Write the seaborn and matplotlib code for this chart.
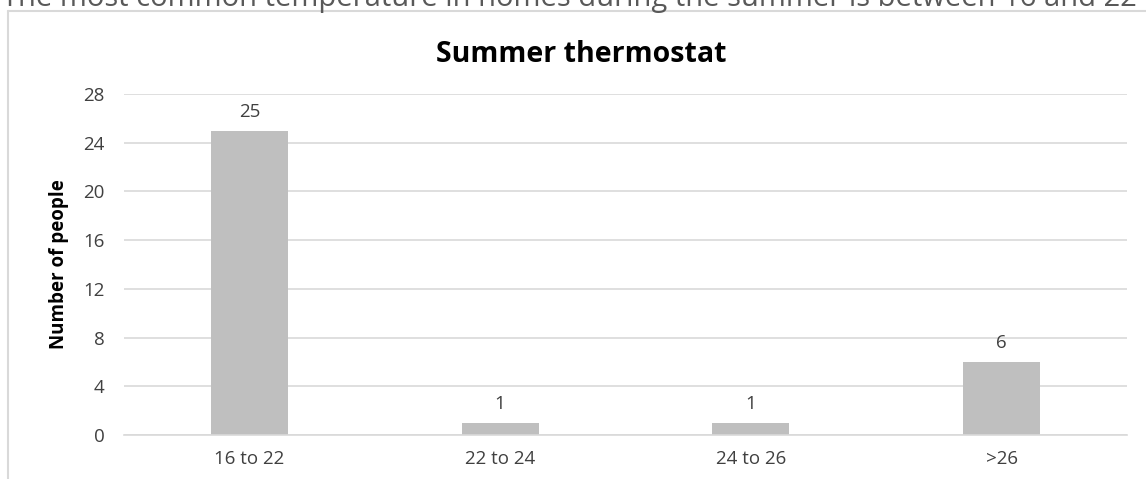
import matplotlib
matplotlib.use("Agg")
import matplotlib.pyplot as plt
import seaborn as sns
import pandas as pd
from matplotlib.lines import Line2D

categories = ["16 to 22", "22 to 24", "24 to 26", ">26"]
counts = [25, 1, 1, 6]
yticks = [0, 4, 8, 12, 16, 20, 24, 28]
title = "Summer thermostat"
ylabel = "Number of people"
caption = "The most common temperature in homes during the summer is between 16 and 22"

sns.set_theme(style="white")
plt.rcParams["font.family"] = ["Open Sans", "DejaVu Sans"]

W, H = 1146, 479
fig = plt.figure(figsize=(W / 100, H / 100), dpi=100)
ax = fig.add_axes([124 / W, 1 - 435 / H, (1127 - 124) / W, (435 - 94) / H])

df = pd.DataFrame({"cat": categories, "n": counts})
sns.barplot(data=df, x="cat", y="n", color="#bfbfbf", width=0.307,
            saturation=1, ax=ax, edgecolor="none")

ax.set_ylim(0, 28)
ax.set_xlim(-0.5, len(categories) - 0.5)
ax.set_yticks(yticks)
ax.set_yticklabels([str(t) for t in yticks])
ax.grid(axis="y", color="#d9d9d9", linewidth=1.2)
ax.set_axisbelow(True)
for s in ["top", "right", "left"]:
    ax.spines[s].set_visible(False)
ax.spines["bottom"].set_color("#d9d9d9")
ax.spines["bottom"].set_linewidth(1.2)
ax.tick_params(axis="both", length=0, labelsize=13.5, labelcolor="#404040")
ax.tick_params(axis="x", pad=11)
ax.tick_params(axis="y", pad=14)
ax.set_xlabel("")
ax.set_ylabel(ylabel, fontsize=13.5, fontweight="bold", color="#000000", labelpad=10)

for c in ax.containers:
    ax.bar_label(c, labels=[str(v) for v in counts], padding=7,
                 fontsize=13.5, color="#404040")

fig.text(581 / W, 1 - 55 / H, title, ha="center", va="center",
         fontsize=20.5, fontweight="bold", color="#000000")

fig.text(2 / W, 1 - 6 / H, caption, ha="left", va="baseline",
         fontsize=21, color="#595959")

# chart frame border
fig.add_artist(Line2D([8 / W, 8 / W], [0, 1 - 11 / H], color="#d9d9d9", lw=1.5,
                      transform=fig.transFigure))
fig.add_artist(Line2D([8 / W, 1], [1 - 11 / H, 1 - 11 / H], color="#d9d9d9", lw=1.5,
                      transform=fig.transFigure))

fig.savefig("out.png", dpi=100)
